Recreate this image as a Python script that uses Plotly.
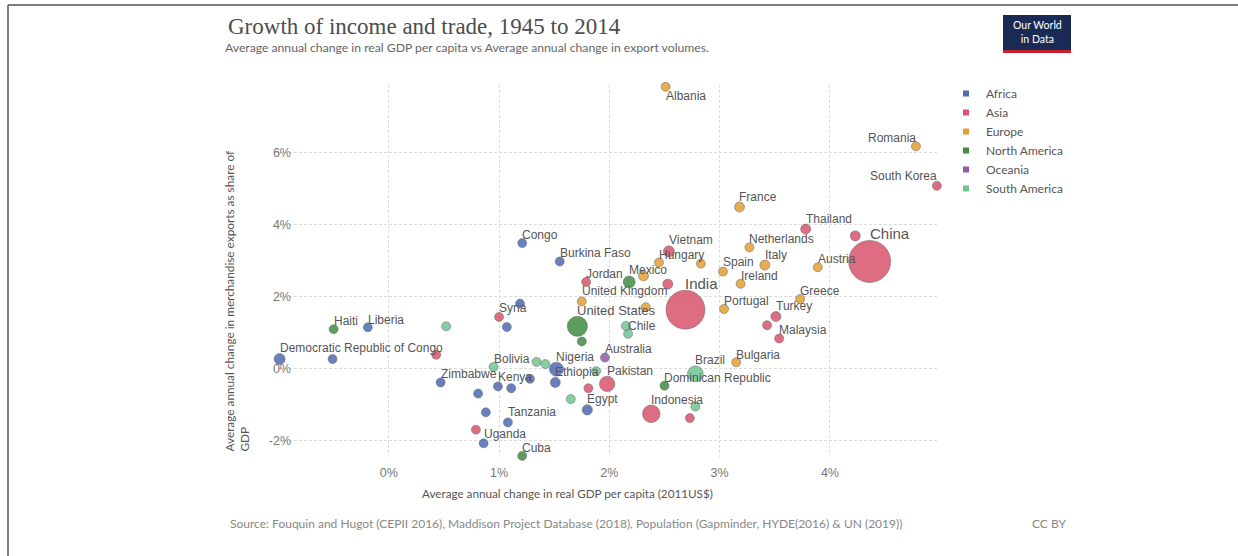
import math
import plotly.graph_objects as go

# ---------------- data ----------------
labels = [
    # Africa
    "Congo", "Burkina Faso", "", "", "Liberia", "Democratic Republic of Congo", "",
    "Nigeria", "Ethiopia", "Kenya", "", "", "Zimbabwe", "", "", "Tanzania", "Uganda", "Egypt",
    # Asia
    "China", "India", "South Korea", "Thailand", "", "Vietnam", "", "Jordan", "Syria",
    "Turkey", "", "Malaysia", "Pakistan", "", "Indonesia", "", "", "",
    # Europe
    "Albania", "Romania", "France", "Netherlands", "Italy", "Spain", "Austria", "Ireland",
    "Greece", "Portugal", "Bulgaria", "Hungary", "", "", "United Kingdom", "",
    # North America
    "United States", "Mexico", "", "Dominican Republic", "Cuba", "Haiti",
    # South America
    "Brazil", "Chile", "", "Bolivia", "", "", "", "", "", "",
    # Oceania
    "Australia",
]
region = (["Africa"] * 18 + ["Asia"] * 18 + ["Europe"] * 16 + ["North America"] * 6
          + ["South America"] * 10 + ["Oceania"] * 1)
gdp_growth = [
    1.21, 1.55, 1.19, 1.07, -0.19, -0.99, -0.51, 1.52, 1.51, 0.99, 1.11, 1.28, 0.47, 0.81, 0.88, 1.08, 0.86, 1.80,
    4.36, 2.69, 4.97, 3.78, 4.23, 2.54, 2.53, 1.79, 1.00, 3.51, 3.43, 3.54, 1.98, 1.81, 2.38, 2.73, 0.43, 0.79,
    2.51, 4.78, 3.18, 3.27, 3.41, 3.03, 3.89, 3.19, 3.73, 3.04, 3.15, 2.45, 2.83, 2.31, 1.75, 2.33,
    1.71, 2.18, 1.75, 2.50, 1.21, -0.50,
    2.78, 2.17, 2.15, 0.95, 1.34, 1.42, 1.88, 1.65, 2.78, 0.52,
    1.96,
]
export_growth = [
    3.49, 2.98, 1.81, 1.16, 1.15, 0.27, 0.27, -0.01, -0.38, -0.49, -0.54, -0.28, -0.38, -0.69, -1.21, -1.49, -2.07, -1.14,
    2.98, 1.64, 5.08, 3.88, 3.69, 3.26, 2.35, 2.41, 1.44, 1.45, 1.21, 0.84, -0.42, -0.54, -1.25, -1.37, 0.39, -1.69,
    7.83, 6.18, 4.49, 3.37, 2.88, 2.70, 2.82, 2.36, 1.94, 1.66, 0.18, 2.95, 2.92, 2.58, 1.87, 1.71,
    1.18, 2.41, 0.76, -0.47, -2.42, 1.10,
    -0.14, 0.97, 1.19, 0.05, 0.19, 0.13, -0.07, -0.84, -1.05, 1.18,
    0.31,
]
population = [  # millions (approximate average)
    10, 14, 36, 6, 5, 69, 5, 111, 57, 40, 6, 6, 14, 6, 20, 46, 36, 60,
    1000, 860, 36, 57, 57, 69, 57, 5, 20, 57, 36, 28, 135, 46, 175, 8, 14, 4,
    4, 22, 57, 20, 57, 40, 12, 6, 12, 12, 8, 14, 5, 57, 46, 12,
    230, 82, 5, 8, 14, 10,
    140, 14, 14, 6, 20, 6, 8, 20, 4, 4,
    20,
]
continents = ["Africa", "Asia", "Europe", "North America", "Oceania", "South America"]
x_ticks = [0, 1, 2, 3, 4]
x_tick_labels = ["0%", "1%", "2%", "3%", "4%"]
y_ticks = [-2, 0, 2, 4, 6]
y_tick_labels = ["-2%", "0%", "2%", "4%", "6%"]

# ---------------- styling ----------------
colors = {
    "Africa": "#4F6BB5",
    "Asia": "#D9546C",
    "Europe": "#E3A033",
    "North America": "#3E8C42",
    "Oceania": "#9459A8",
    "South America": "#72C692",
}
W, H = 1238, 556
ML, MR, MT, MB = 200, 300, 85, 99
PW, PH = W - ML - MR, H - MT - MB
SIZEREF = 2 * 1000 / 42 ** 2
SIZEMIN = 4.5
LABEL_LEFT = {"Romania", "South Korea"}
LABEL_BELOW = {"Albania"}


def px_x(px):
    return (px - ML) / PW


def px_y(py):
    return (H - MB - py) / PH


def diam(p):
    return max(math.sqrt(2 * p / SIZEREF), SIZEMIN)


order = sorted(range(len(labels)), key=lambda i: -population[i])

fig = go.Figure()
fig.add_trace(go.Scatter(
    x=[gdp_growth[i] for i in order],
    y=[export_growth[i] for i in order],
    mode="markers",
    text=[labels[i] for i in order],
    marker=dict(
        size=[population[i] for i in order],
        sizemode="area", sizeref=SIZEREF, sizemin=SIZEMIN,
        color=[colors[region[i]] for i in order],
        opacity=0.85,
        line=dict(color="rgba(70,70,70,0.7)", width=0.7),
    ),
    showlegend=False,
    cliponaxis=False,
    hoverinfo="text",
))

for c in continents:
    fig.add_trace(go.Scatter(
        x=[None], y=[None], mode="markers", name=c,
        marker=dict(symbol="square", size=6, color=colors[c]),
        legendgroup=c,
    ))

annotations = []
for i, lab in enumerate(labels):
    if not lab:
        continue
    r = diam(population[i]) / 2
    p = population[i]
    fs = 15 if p >= 600 else (13 if p >= 200 else 12)
    a = dict(x=gdp_growth[i], y=export_growth[i], xref="x", yref="y", text=lab,
             showarrow=False, font=dict(family="Liberation Sans", size=fs, color="#555"),
             borderpad=0, borderwidth=0, xanchor="left", yanchor="bottom", yshift=r - 1.5)
    if lab in LABEL_LEFT:
        a["xanchor"] = "right"
    if lab in LABEL_BELOW:
        a["yanchor"] = "top"
        a["yshift"] = -2
    annotations.append(a)

annotations += [
    dict(x=px_x(223), y=px_y(47), xref="paper", yref="paper", xanchor="left", yanchor="middle",
         text="Average annual change in real GDP per capita vs Average annual change in export volumes.",
         showarrow=False, font=dict(family="Lato", size=12.2, color="#666")),
    dict(x=px_x(236.5), y=px_y(301), xref="paper", yref="paper", xanchor="center", yanchor="middle",
         textangle=-90, align="left",
         text="Average annual change in merchandise exports as share of<br>GDP",
         showarrow=False, font=dict(family="Lato", size=11.8, color="#555")),
    dict(x=px_x(567), y=px_y(493), xref="paper", yref="paper", xanchor="center", yanchor="middle",
         text="Average annual change in real GDP per capita (2011US$)",
         showarrow=False, font=dict(family="Lato", size=11.7, color="#555")),
    dict(x=px_x(228), y=px_y(523), xref="paper", yref="paper", xanchor="left", yanchor="middle",
         text="Source: Fouquin and Hugot (CEPII 2016), Maddison Project Database (2018), Population (Gapminder, HYDE(2016) &amp; UN (2019))",
         showarrow=False, font=dict(family="Lato", size=12, color="#888")),
    dict(x=px_x(1068), y=px_y(523), xref="paper", yref="paper", xanchor="right", yanchor="middle",
         text="CC BY", showarrow=False, font=dict(family="Lato", size=12, color="#888")),
    dict(x=px_x(1037), y=px_y(32), xref="paper", yref="paper", xanchor="center", yanchor="middle",
         text="Our World<br>in Data", showarrow=False,
         font=dict(family="Lato", size=10.5, color="white")),
]

shapes = [
    dict(type="rect", xref="paper", yref="paper", x0=px_x(1003), x1=px_x(1071), y0=px_y(53), y1=px_y(15),
         fillcolor="#1b2a55", line=dict(width=0)),
    dict(type="rect", xref="paper", yref="paper", x0=px_x(1003), x1=px_x(1071), y0=px_y(53), y1=px_y(50),
         fillcolor="#c8202e", line=dict(width=0)),
    dict(type="line", xref="paper", yref="paper", x0=px_x(8), x1=px_x(8), y0=px_y(5), y1=px_y(556),
         line=dict(color="#555", width=1.5)),
    dict(type="line", xref="paper", yref="paper", x0=px_x(8), x1=px_x(1238), y0=px_y(5), y1=px_y(5),
         line=dict(color="#555", width=1.5)),
]

fig.update_layout(
    width=W, height=H,
    margin=dict(l=ML, r=MR, t=MT, b=MB, autoexpand=False),
    paper_bgcolor="white", plot_bgcolor="white",
    title=dict(text="Growth of income and trade, 1945 to 2014", x=228 / W, y=1 - 26 / H,
               xref="container", yref="container", xanchor="left", yanchor="middle",
               font=dict(family="Liberation Serif", size=23, color="#4d4d4d")),
    xaxis=dict(range=[-1.0, 4.98], domain=[px_x(278.5), 1], tickvals=x_ticks, ticktext=x_tick_labels,
               showgrid=True, gridcolor="#dcdcdc", griddash="3px,2px", zeroline=False,
               showline=False, ticks="", ticklabelstandoff=6,
               tickfont=dict(family="Liberation Sans", size=12.5, color="#777")),
    yaxis=dict(range=[-2.45, 7.88], anchor="free", position=px_x(291), tickvals=y_ticks,
               ticktext=y_tick_labels,
               showgrid=True, gridcolor="#dcdcdc", griddash="3px,2px", zeroline=False,
               showline=False, ticks="",
               tickfont=dict(family="Liberation Sans", size=12.5, color="#777")),
    legend=dict(x=px_x(946), y=px_y(79), xanchor="left", yanchor="top", bgcolor="rgba(0,0,0,0)",
                font=dict(family="Lato", size=12, color="#555"), itemwidth=30, tracegroupgap=0),
    annotations=annotations,
    shapes=shapes,
)

fig.write_html("out.html", config={"displayModeBar": False},
               post_script="document.body.style.margin='0';")
